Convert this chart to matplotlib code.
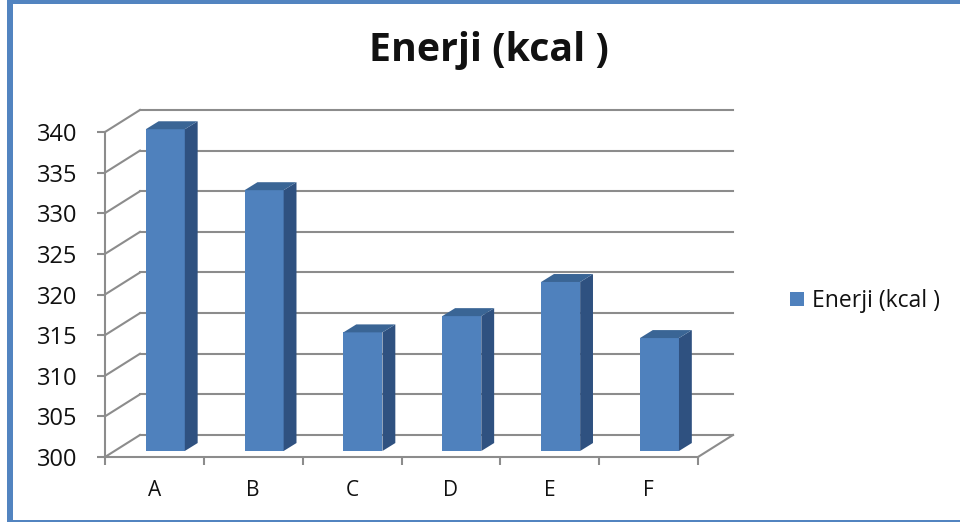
import matplotlib.pyplot as plt
from matplotlib.patches import Polygon, Rectangle

categories = ["A", "B", "C", "D", "E", "F"]
energy = [339.6, 332.1, 314.6, 316.6, 320.8, 313.9]
y_ticks = [300, 305, 310, 315, 320, 325, 330, 335, 340]
series_name = "Enerji (kcal )"

FRONT = "#4f81bd"
SIDE = "#2f5180"
TOP = "#3a6595"
GRID = "#8c8c8c"
BORDER = "#5284c0"

# depth of the fake 3D box, in data units
WALL_DX, WALL_DY = 0.354, 2.71
BAR_DX, BAR_DY = 0.11, 0.74
DEPTH_DX, DEPTH_DY = 0.13, 0.98
BAR_W = 0.395

plt.rcParams["font.family"] = ["Open Sans", "DejaVu Sans"]

fig = plt.figure(figsize=(9.6, 5.22), dpi=100)
ax = fig.add_axes([105 / 960, 1 - 457 / 522, 593 / 960, 325 / 522])
ax.set_xlim(0, 6)
ax.set_ylim(300, 340)

# back wall, side wall and floor
for v in y_ticks:
    ax.plot([WALL_DX, 6 + WALL_DX], [v + WALL_DY] * 2, color=GRID, lw=1.5, clip_on=False, zorder=1)
    ax.plot([0, WALL_DX], [v, v + WALL_DY], color=GRID, lw=1.5, clip_on=False, zorder=1)
ax.plot([6, 6 + WALL_DX], [300, 300 + WALL_DY], color=GRID, lw=1.5, clip_on=False, zorder=1)

xs = [i + 0.5 + BAR_DX for i in range(len(categories))]
base = 300 + BAR_DY
bars = ax.bar(xs, [v - 300 for v in energy], BAR_W, bottom=base, color=FRONT,
              label=series_name, clip_on=False, zorder=3)

# side and top faces of each bar
for x, v in zip(xs, energy):
    left, right = x - BAR_W / 2, x + BAR_W / 2
    top = v + BAR_DY
    ax.add_patch(Polygon([(right, base), (right + DEPTH_DX, base + DEPTH_DY),
                          (right + DEPTH_DX, top + DEPTH_DY), (right, top)],
                         facecolor=SIDE, edgecolor="none", clip_on=False, zorder=3))
    ax.add_patch(Polygon([(left, top), (right, top), (right + DEPTH_DX, top + DEPTH_DY),
                          (left + DEPTH_DX, top + DEPTH_DY)],
                         facecolor=TOP, edgecolor="none", clip_on=False, zorder=3))

for name in ["top", "right"]:
    ax.spines[name].set_visible(False)
for name in ["left", "bottom"]:
    ax.spines[name].set_color(GRID)
    ax.spines[name].set_linewidth(1.5)

ax.set_yticks(y_ticks)
ax.set_xticks([i + 0.5 for i in range(len(categories))])
ax.set_xticklabels(categories)
ax.set_xticks(range(len(categories) + 1), minor=True)
ax.tick_params(axis="x", which="major", length=0, pad=16.5, labelsize=15, labelcolor="#111111")
ax.tick_params(axis="x", which="minor", length=6, width=1.5, color=GRID)
ax.tick_params(axis="y", length=6, width=1.5, color=GRID, pad=14, labelsize=17, labelcolor="#111111")

fig.text(489 / 960, 1 - 50 / 522, series_name, ha="center", va="center",
         fontsize=28.3, fontweight="bold", color="#111111")

fig.legend(handles=[bars], loc="center left", bbox_to_anchor=(769 / 960, 1 - 301 / 522),
           frameon=False, fontsize=16.5, handlelength=0.62, handleheight=0.62, handletextpad=0.35,
           labelcolor="#111111")

# outer chart frame: left, top and bottom edges
for x0, y0, w, h in [(7, 0, 5.5, 522), (7, 0, 953, 3.5), (7, 520, 953, 2)]:
    fig.add_artist(Rectangle((x0 / 960, 1 - (y0 + h) / 522), w / 960, h / 522,
                             transform=fig.transFigure, facecolor=BORDER, edgecolor="none"))

fig.savefig("out.png", dpi=100)
